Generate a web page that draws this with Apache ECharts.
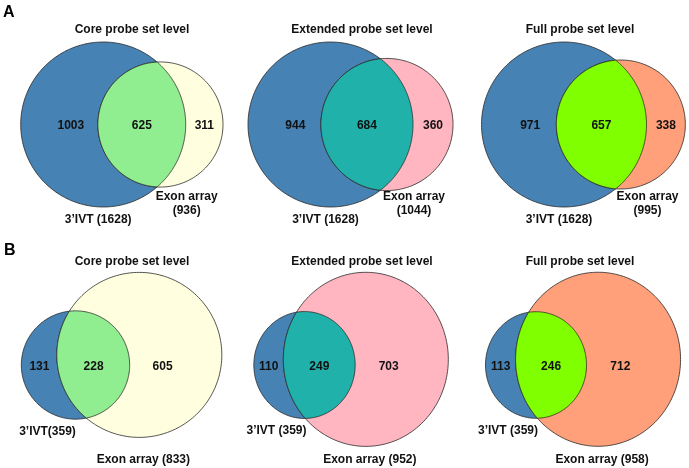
<!DOCTYPE html>
<html>
<head>
<meta charset="utf-8">
<script src="https://cdn.jsdelivr.net/npm/echarts@6/dist/echarts.min.js"></script>
<style>html,body{margin:0;padding:0;background:#fff}#c{width:689px;height:468px}</style>
</head>
<body>
<div id="c"></div>
<script>
// ---------- data ----------
const panelTitles = ['Core probe set level', 'Extended probe set level', 'Full probe set level'];
const rowLetters = ['A', 'B'];

// Row A
const ivtTotalA = [1628, 1628, 1628];
const exonTotalA = [936, 1044, 995];
const overlapA = [625, 684, 657];
const ivtOnlyA = [1003, 944, 971];
const exonOnlyA = [311, 360, 338];
const ivtLabelA = ['3\u2019IVT (1628)', '3\u2019IVT (1628)', '3\u2019IVT (1628)'];
const exonLabelA = ['Exon array\n(936)', 'Exon array\n(1044)', 'Exon array\n(995)'];

// Row B
const ivtTotalB = [359, 359, 359];
const exonTotalB = [833, 952, 958];
const overlapB = [228, 249, 246];
const ivtOnlyB = [131, 110, 113];
const exonOnlyB = [605, 703, 712];
const ivtLabelB = ['3\u2019IVT(359)', '3\u2019IVT (359)', '3\u2019IVT (359)'];
const exonLabelB = ['Exon array (833)', 'Exon array (952)', 'Exon array (958)'];

const colorsIVT = '#4682B4';
const colorsExon = ['#FFFFE0', '#FFB6C1', '#FFA07A'];
const colorsLens = ['#90EE90', '#20B2AA', '#7FFF00'];

// ---------- layout (pixels) ----------
const colLeft = [0, 230, 460], colWidth = [230, 230, 229];
const rowTop = [0, 234], rowHeight = [234, 234];
const anchors = [
  [[103.2, 124.5], [330.5, 124.5], [564, 124.5]],
  [[75.5, 365], [304.5, 365], [536, 365]]
];
const panelAngle = [[0, 0, 0], [9, 5, 5]];          // degrees, 3'IVT circle -> exon circle
const panelStretchY = [[1, 1, 1], [1, 1.055, 1.055]]; // vertical aspect of the panel image
const bigRadiusPx = 82.5;
const titleX = [132, 362, 580], titleY = [31, 263];
const FONT = '"Liberation Sans", Arial, Helvetica, sans-serif';

// ---------- venn geometry ----------
function lensArea(r1, r2, d) {
  if (d >= r1 + r2) return 0;
  if (d <= Math.abs(r1 - r2)) return Math.PI * Math.min(r1, r2) ** 2;
  const a1 = Math.acos((d * d + r1 * r1 - r2 * r2) / (2 * d * r1));
  const a2 = Math.acos((d * d + r2 * r2 - r1 * r1) / (2 * d * r2));
  return r1 * r1 * a1 + r2 * r2 * a2 -
    0.5 * Math.sqrt((-d + r1 + r2) * (d + r1 - r2) * (d - r1 + r2) * (d + r1 + r2));
}
function solveDist(r1, r2, target) {
  let lo = Math.abs(r1 - r2), hi = r1 + r2;
  for (let i = 0; i < 100; i++) {
    const mid = (lo + hi) / 2;
    if (lensArea(r1, r2, mid) > target) lo = mid; else hi = mid;
  }
  return (lo + hi) / 2;
}

const grids = [], xAxes = [], yAxes = [], series = [], titles = [];
rowLetters.forEach((L, row) => {
  titles.push({ text: L, left: row === 0 ? 3 : 4, top: row === 0 ? 5 : 243, padding: 0,
    textStyle: { fontSize: 16, fontWeight: 'bold', color: '#000', fontFamily: FONT } });
});

for (let row = 0; row < 2; row++) {
  for (let col = 0; col < 3; col++) {
    const idx = row * 3 + col;
    const n1 = row ? ivtTotalB[col] : ivtTotalA[col];
    const n2 = row ? exonTotalB[col] : exonTotalA[col];
    const ov = row ? overlapB[col] : overlapA[col];
    const only1 = row ? ivtOnlyB[col] : ivtOnlyA[col];
    const only2 = row ? exonOnlyB[col] : exonOnlyA[col];
    const lab1 = row ? ivtLabelB[col] : ivtLabelA[col];
    const lab2 = row ? exonLabelB[col] : exonLabelA[col];
    const r1 = Math.sqrt(n1 / Math.PI), r2 = Math.sqrt(n2 / Math.PI);
    const d = solveDist(r1, r2, ov);
    const th = panelAngle[row][col] * Math.PI / 180;
    const dx = d * Math.cos(th), dy = d * Math.sin(th);
    const sx = Math.max(r1, r2) / bigRadiusPx;      // data units per pixel (x)
    const sy = sx / panelStretchY[row][col];         // data units per pixel (y)
    const left = colLeft[col], top = rowTop[row], w = colWidth[col], h = rowHeight[row];
    const [ax, ay] = anchors[row][col];
    grids.push({ left, top, width: w, height: h });
    xAxes.push({ type: 'value', gridIndex: idx, show: false, min: -(ax - left) * sx, max: (left + w - ax) * sx });
    yAxes.push({ type: 'value', gridIndex: idx, show: false, min: -(top + h - ay) * sy, max: (ay - top) * sy });

    titles.push({ text: panelTitles[col], left: titleX[col], top: titleY[row] - 7, padding: 0, textAlign: 'center',
      textStyle: { fontSize: 12, fontWeight: 'bold', color: '#111', fontFamily: FONT } });

    const info = { r1, r2, d, dx, dy, only1, only2, ov, lab1, lab2, row, big1: r1 >= r2,
      c2col: colorsExon[col], lensCol: colorsLens[col] };

    series.push({
      type: 'custom', xAxisIndex: idx, yAxisIndex: idx, silent: true,
      data: [[0, 0]],
      renderItem: (params, api) => {
        const { r1, r2, d, dx, dy } = info;
        const N = 180;
        const circlePts = (cx, cy, r) => {
          const p = [];
          for (let i = 0; i < N; i++) {
            const t = 2 * Math.PI * i / N;
            p.push(api.coord([cx + r * Math.cos(t), cy + r * Math.sin(t)]));
          }
          return p;
        };
        const phi = Math.atan2(dy, dx);
        const a = (d * d + r1 * r1 - r2 * r2) / (2 * d);
        const al1 = Math.acos(Math.max(-1, Math.min(1, a / r1)));
        const al2 = Math.acos(Math.max(-1, Math.min(1, (d - a) / r2)));
        const lens = [];
        for (let i = 0; i <= N; i++) {
          const t = phi - al1 + 2 * al1 * i / N;
          lens.push(api.coord([r1 * Math.cos(t), r1 * Math.sin(t)]));
        }
        for (let i = 0; i <= N; i++) {
          const t = phi + Math.PI - al2 + 2 * al2 * i / N;
          lens.push(api.coord([dx + r2 * Math.cos(t), dy + r2 * Math.sin(t)]));
        }
        const stroke = { stroke: '#2a2a2a', lineWidth: 0.8 };
        // label positions along the horizontal line through the 3'IVT centre
        const hw = Math.sqrt(Math.max(0, r2 * r2 - dy * dy));
        const s1L = -r1, lensL = dx - hw, lensR = r1, s2R = dx + hw;
        const x1 = info.big1 ? lensL - 0.35 * (lensL - s1L) : (s1L + lensL) / 2;
        const x2 = info.big1 ? (lensR + s2R) / 2 : lensR + 0.36 * (s2R - lensR);
        const xm = (lensL + lensR) / 2;
        const c1 = api.coord([0, 0]);
        const c2 = api.coord([dx, dy]);
        const R1x = api.size([r1, 0])[0];
        const R1y = api.size([0, r1])[1];
        const px = (x) => api.coord([x, 0])[0];
        const numFont = 'bold 12px ' + FONT;
        const labFont = 'bold 12px ' + FONT;
        const ny = c1[1] + (info.row ? 2 : 1.5);
        const txt = (t, x, y, f) => ({ type: 'text', style: { text: String(t), x, y, fill: '#111', font: f || numFont, align: 'center', verticalAlign: 'middle', lineHeight: 14 } });
        const children = [
          { type: 'polygon', shape: { points: circlePts(0, 0, r1) }, style: Object.assign({ fill: colorsIVT }, stroke) },
          { type: 'polygon', shape: { points: circlePts(dx, dy, r2) }, style: Object.assign({ fill: info.c2col }, stroke) },
          { type: 'polygon', shape: { points: lens }, style: Object.assign({ fill: info.lensCol }, stroke) },
          txt(info.only1, px(x1), ny), txt(info.ov, px(xm), ny), txt(info.only2, px(x2), ny)
        ];
        if (info.row === 0) {
          children.push(txt(info.lab1, c1[0] - 5, c1[1] + R1y + 13, labFont));
          children.push(txt(info.lab2, c1[0] + R1x + 1, c1[1] + 79.5, labFont));
        } else {
          children.push(txt(info.lab1, c1[0] - 28, c1[1] + R1y + 12.5, labFont));
          children.push(txt(info.lab2, c2[0] + 4, c1[1] + 95, labFont));
        }
        return { type: 'group', children };
      }
    });
  }
}

const chart = echarts.init(document.getElementById('c'), null, { renderer: 'canvas' });
chart.setOption({
  animation: false,
  backgroundColor: '#fff',
  title: titles,
  grid: grids,
  xAxis: xAxes,
  yAxis: yAxes,
  series
});
</script>
</body>
</html>
